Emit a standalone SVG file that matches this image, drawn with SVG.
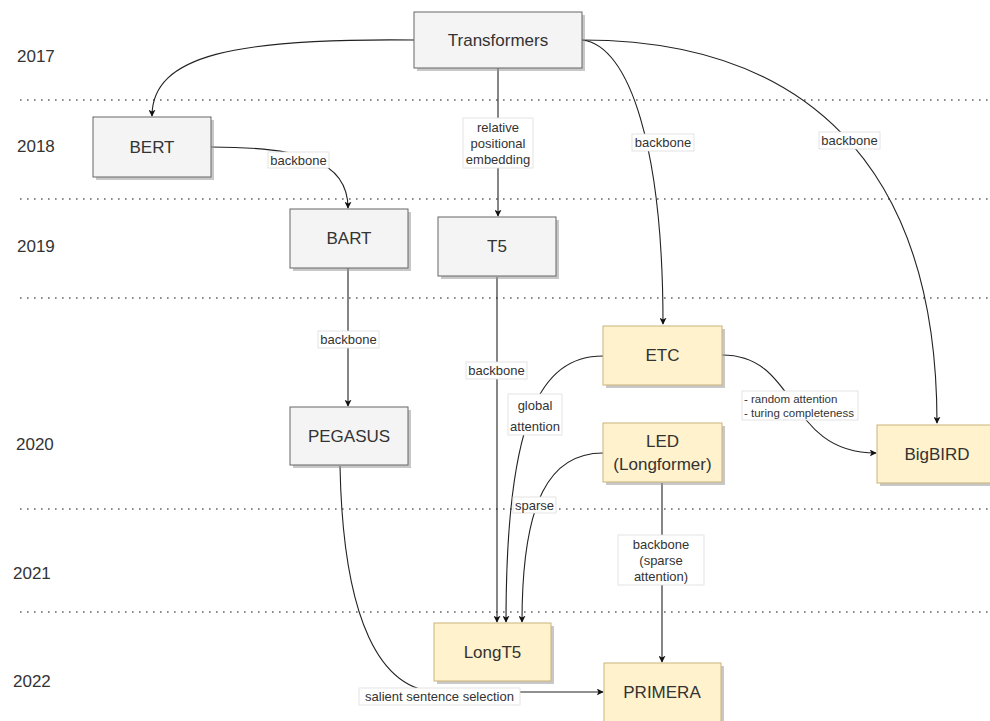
<svg xmlns="http://www.w3.org/2000/svg" width="990" height="721" viewBox="0 0 990 721">
<style>
  .yr{font-family:"Liberation Sans",Arial,sans-serif;font-size:17px;fill:#333}
  .sep{stroke:#666;stroke-width:1.6;stroke-dasharray:1.6 5.4;fill:none}
  .shadow{fill:#9a9a9a;opacity:0.55}
  .g{fill:#f4f4f4;stroke:#666;stroke-width:1}
  .y{fill:#fff2cc;stroke:#c9b37a;stroke-width:1}
  .nt{font-family:"Liberation Sans",Arial,sans-serif;font-size:17px;fill:#333;text-anchor:middle;dominant-baseline:central}
  .e{fill:none;stroke:#222;stroke-width:1.1}
  .lb{fill:#fff;stroke:#ddd;stroke-width:0.8}
  .lt{font-family:"Liberation Sans",Arial,sans-serif;font-size:13px;fill:#333;text-anchor:middle;dominant-baseline:central}
  .ls{font-family:"Liberation Sans",Arial,sans-serif;font-size:11.5px;fill:#333;dominant-baseline:central}
</style>
<defs>
  <marker id="ah" viewBox="0 0 10 10" refX="9" refY="5" markerWidth="7" markerHeight="7" markerUnits="userSpaceOnUse" orient="auto">
    <path d="M0,0 L10,5 L0,10 L2.5,5 z" fill="#111"/>
  </marker>
</defs>
<rect width="990" height="721" fill="#fff"/>

<g id="years">
  <text class="yr" x="17" y="62">2017</text>
  <text class="yr" x="17" y="152">2018</text>
  <text class="yr" x="17" y="252">2019</text>
  <text class="yr" x="16" y="450">2020</text>
  <text class="yr" x="13" y="579">2021</text>
  <text class="yr" x="13" y="687">2022</text>
</g>
<g id="separators">
  <line class="sep" x1="20" y1="100" x2="990" y2="100"/>
  <line class="sep" x1="20" y1="199" x2="990" y2="199"/>
  <line class="sep" x1="20" y1="298" x2="990" y2="298"/>
  <line class="sep" x1="20" y1="509" x2="990" y2="509"/>
  <line class="sep" x1="20" y1="612" x2="990" y2="612"/>
</g>

<g id="connectors">
  <path class="e" d="M414,40 C235,38 152,55 152,116" marker-end="url(#ah)"/>
  <path class="e" d="M498,68 L498,216" marker-end="url(#ah)"/>
  <path class="e" d="M582,40 C630,45 663,150 663,324" marker-end="url(#ah)"/>
  <path class="e" d="M582,40 C800,40 937,160 937,423" marker-end="url(#ah)"/>
  <path class="e" d="M211,147 C300,147 348,160 348,208" marker-end="url(#ah)"/>
  <path class="e" d="M348,268 L348,406" marker-end="url(#ah)"/>
  <path class="e" d="M497,277 L497,622" marker-end="url(#ah)"/>
  <path class="e" d="M603,356 C540,356 506,420 506,622" marker-end="url(#ah)"/>
  <path class="e" d="M603,453 C550,453 522,500 522,622" marker-end="url(#ah)"/>
  <path class="e" d="M722,355 C800,355 785,453 876,453" marker-end="url(#ah)"/>
  <path class="e" d="M662,483 L662,662" marker-end="url(#ah)"/>
  <path class="e" d="M340,466 C343,620 380,692 440,692 L603,692" marker-end="url(#ah)"/>

  <g id="labels">
    <rect class="lb" x="463" y="118" width="70" height="50"/>
    <text class="lt" x="498" y="127">relative</text>
    <text class="lt" x="498" y="143">positional</text>
    <text class="lt" x="498" y="159">embedding</text>

    <rect class="lb" x="632" y="134" width="62" height="17"/>
    <text class="lt" x="663" y="142.5">backbone</text>

    <rect class="lb" x="819" y="132" width="61" height="17"/>
    <text class="lt" x="849.5" y="140.5">backbone</text>

    <rect class="lb" x="268" y="152" width="61" height="16"/>
    <text class="lt" x="298.5" y="160">backbone</text>

    <rect class="lb" x="318" y="331" width="61" height="17"/>
    <text class="lt" x="348.5" y="339.5">backbone</text>

    <rect class="lb" x="466" y="362" width="61" height="17"/>
    <text class="lt" x="496.5" y="370.5">backbone</text>

    <rect class="lb" x="508" y="394" width="54" height="41"/>
    <text class="lt" x="535" y="405">global</text>
    <text class="lt" x="535" y="426">attention</text>

    <rect class="lb" x="513" y="497" width="43" height="16"/>
    <text class="lt" x="534.5" y="505">sparse</text>

    <rect class="lb" x="742" y="391" width="116" height="29"/>
    <text class="ls" x="744" y="399">- random attention</text>
    <text class="ls" x="744" y="413">- turing completeness</text>

    <rect class="lb" x="618" y="535" width="86" height="50"/>
    <text class="lt" x="661" y="544">backbone</text>
    <text class="lt" x="661" y="560">(sparse</text>
    <text class="lt" x="661" y="576">attention)</text>

    <rect class="lb" x="359" y="688" width="161" height="17"/>
    <text class="lt" x="439.5" y="696.5">salient sentence selection</text>
  </g>
</g>

<g id="transformers">
  <rect class="shadow" x="417" y="15" width="168" height="56"/>
  <rect class="g" x="414" y="12" width="168" height="56"/>
  <text class="nt" x="498" y="40">Transformers</text>
</g>
<g id="bert">
  <rect class="shadow" x="96" y="120" width="118" height="60"/>
  <rect class="g" x="93" y="117" width="118" height="60"/>
  <text class="nt" x="152" y="147">BERT</text>
</g>
<g id="bart">
  <rect class="shadow" x="293" y="212" width="118" height="59"/>
  <rect class="g" x="290" y="209" width="118" height="59"/>
  <text class="nt" x="349" y="238.5">BART</text>
</g>
<g id="t5">
  <rect class="shadow" x="441" y="220" width="118" height="59"/>
  <rect class="g" x="438" y="217" width="118" height="59"/>
  <text class="nt" x="497" y="246.5">T5</text>
</g>
<g id="pegasus">
  <rect class="shadow" x="293" y="410" width="118" height="58"/>
  <rect class="g" x="290" y="407" width="118" height="58"/>
  <text class="nt" x="349" y="436">PEGASUS</text>
</g>
<g id="etc">
  <rect class="shadow" x="606" y="329" width="119" height="59"/>
  <rect class="y" x="603" y="326" width="119" height="59"/>
  <text class="nt" x="662.5" y="355.5">ETC</text>
</g>
<g id="led">
  <rect class="shadow" x="606" y="426" width="119" height="59"/>
  <rect class="y" x="603" y="423" width="119" height="59"/>
  <text class="nt" x="662.5" y="441">LED</text>
  <text class="nt" x="662.5" y="464">(Longformer)</text>
</g>
<g id="bigbird">
  <rect class="shadow" x="880" y="428" width="120" height="58"/>
  <rect class="y" x="877" y="425" width="120" height="58"/>
  <text class="nt" x="937" y="454">BigBIRD</text>
</g>
<g id="longt5">
  <rect class="shadow" x="437" y="626" width="117" height="58"/>
  <rect class="y" x="434" y="623" width="117" height="58"/>
  <text class="nt" x="492.5" y="652">LongT5</text>
</g>
<g id="primera">
  <rect class="shadow" x="607" y="666" width="117" height="70"/>
  <rect class="y" x="604" y="663" width="117" height="70"/>
  <text class="nt" x="662" y="692">PRIMERA</text>
</g>
</svg>
